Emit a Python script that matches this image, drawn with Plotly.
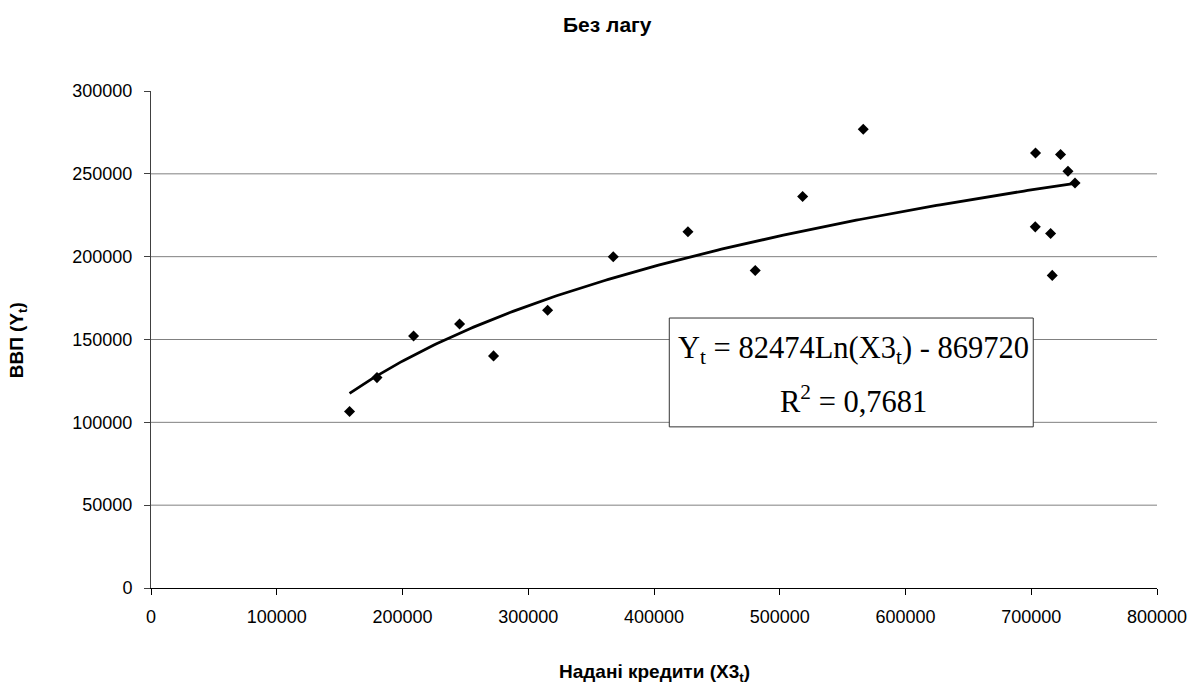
import numpy as np
import plotly.graph_objects as go

# Data
X3 = [157900, 179700, 208800, 245400, 272400, 315400, 367600, 427000, 480500,
      518200, 566400, 703400, 723300, 729200, 734800, 703200, 715400, 716700]
Y = [106500, 127000, 152100, 159300, 140100, 167600, 199900, 215000, 191700,
     236300, 276900, 262600, 261700, 251600, 244500, 218000, 214000, 188700]

# Trendline coefficients as shown on chart
TREND_A = 82474
TREND_B = -869720

X_TICKS = [0, 100000, 200000, 300000, 400000, 500000, 600000, 700000, 800000]
Y_TICKS = [0, 50000, 100000, 150000, 200000, 250000, 300000]
GRID_Y = [50000, 100000, 150000, 200000, 250000]

tx = np.linspace(min(X3), max(X3), 200)
ty = TREND_A * np.log(tx) + TREND_B

fig = go.Figure()
fig.add_trace(go.Scatter(x=tx, y=ty, mode="lines",
                         line=dict(color="black", width=2.8), hoverinfo="skip"))
fig.add_trace(go.Scatter(x=X3, y=Y, mode="markers",
                         marker=dict(symbol="diamond", size=8.5, color="black")))

shapes = []
for g in GRID_Y:
    shapes.append(dict(type="line", xref="paper", yref="y", x0=0, x1=1, y0=g, y1=g,
                       line=dict(color="#808080", width=1), layer="below"))
shapes.append(dict(type="rect", xref="paper", yref="paper",
                   x0=0.5152, x1=0.877, y0=0.3242, y1=0.5432,
                   fillcolor="white", line=dict(color="#333333", width=1), layer="below"))

font_sans = "Liberation Sans, Arial, sans-serif"
font_serif = "Liberation Serif, Times New Roman, serif"

annotations = [
    dict(text="Y<sub>t</sub> = 82474Ln(X3<sub>t</sub>) - 869720", xref="paper", yref="paper",
         x=0.6985, y=(588.3 - 350) / 497.6, xanchor="center", yanchor="middle",
         showarrow=False, font=dict(family=font_serif, size=30.5, color="black")),
    dict(text="R<sup>2</sup> = 0,7681", xref="paper", yref="paper",
         x=0.6985, y=(588.3 - 400) / 497.6, xanchor="center", yanchor="middle",
         showarrow=False, font=dict(family=font_serif, size=30.5, color="black")),
    dict(text="<b>Надані кредити (X3<sub>t</sub>)</b>", xref="paper", yref="paper",
         x=0.5, y=(588.3 - 673) / 497.6, xanchor="center", yanchor="middle",
         showarrow=False, font=dict(family=font_sans, size=19, color="black")),
    dict(text="<b>ВВП (Y<sub>t</sub>)</b>", xref="paper", yref="paper",
         x=(18 - 150.7) / 1006, y=(588.3 - 340) / 497.6, xanchor="center", yanchor="middle",
         textangle=-90, showarrow=False, font=dict(family=font_sans, size=19, color="black")),
    dict(text="<b>Без лагу</b>", xref="paper", yref="paper",
         x=(607 - 150.7) / 1006, y=(588.3 - 24) / 497.6, xanchor="center", yanchor="middle",
         showarrow=False, font=dict(family=font_sans, size=21, color="black")),
]

fig.update_layout(
    width=1202, height=688,
    margin=dict(l=151, r=45, t=91, b=100),
    paper_bgcolor="white", plot_bgcolor="white",
    showlegend=False,
    font=dict(family=font_sans, size=18, color="black"),
    shapes=shapes,
    annotations=annotations,
    xaxis=dict(range=[0, 800000], tickvals=X_TICKS, tickformat="d",
               showgrid=False, zeroline=False, showline=True, linecolor="black", linewidth=1,
               ticks="outside", ticklen=6, tickcolor="black", ticklabelstandoff=6,
               tickfont=dict(family=font_sans, size=18, color="black")),
    yaxis=dict(range=[0, 300000], tickvals=Y_TICKS, tickformat="d",
               showgrid=False, zeroline=False, showline=True, linecolor="#404040", linewidth=1,
               ticks="outside", ticklen=6, tickcolor="#404040", ticklabelstandoff=8,
               tickfont=dict(family=font_sans, size=18, color="black")),
)

fig.write_html("out.html")
